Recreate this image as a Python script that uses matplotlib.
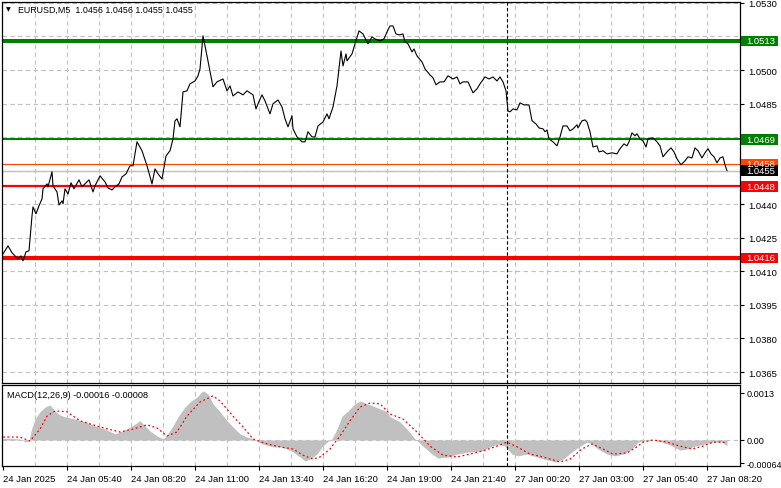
import matplotlib
matplotlib.use("Agg")
import matplotlib.pyplot as plt
import matplotlib.transforms as mtransforms
from matplotlib.patches import Rectangle

# ---------------- data ----------------
# bar position (M5 bars since 24 Jan 03:00) and close price
price_pos = [0, 2.5, 4.5, 6, 7.5, 9, 10, 11.5, 13, 14.5, 15, 16.5, 18, 19.5, 20, 22, 22.5, 24.5, 25, 27,
             28, 29.5, 30, 31, 32.5, 34, 35.5, 38, 39.5, 41, 43, 45, 46, 48.5, 51, 52.5, 54.5, 56, 58, 59.5,
             61.5, 63.5, 65, 67, 69.5, 72, 74.5, 76, 77.5, 79.5, 81.5, 83.5, 85, 86, 87, 88.5, 90, 92, 93.5, 96,
             97.5, 98.5, 100, 102, 105, 107, 110, 112, 113.5, 115, 117.5, 120, 122, 125, 126.5, 127.5, 129.5, 131, 133.5, 135,
             137.5, 139.5, 141, 142.5, 144.5, 145, 147, 149.5, 151, 152.5, 154.5, 156, 157.5, 160, 162, 163, 165, 167, 169, 170,
             171.5, 172, 174.5, 176, 178, 180, 182.5, 184.5, 186, 188.5, 190.5, 192, 193.5, 195, 196.5, 198, 200, 201, 202.5, 204.5,
             205.5, 207, 209.5, 211, 213.5, 215, 216.5, 218.5, 220.5, 222.5, 225, 227, 228.5, 230, 232.5, 235, 237, 238.5, 241, 243,
             245, 247, 248.5, 250, 251.5, 252.5, 253.5, 255, 257, 258.5, 260.5, 263, 264.5, 266.5, 268, 270, 271, 272, 273, 275,
             277, 278.5, 280, 282, 283.5, 285, 287, 287.5, 289.5, 291, 292, 293.5, 295, 297, 298, 300, 302, 304.5, 307, 308.5,
             310.5, 312, 313, 314.5, 316, 317, 318.5, 320, 321.5, 322.5, 325, 327, 328.5, 330, 332, 334, 335.5, 337, 339, 341,
             342.5, 344.5, 346, 347.5, 349.5, 351, 352.5, 354, 355.5, 357, 358.5, 360, 361, 362]
price_close = [1.04178, 1.04214, 1.04183, 1.04169, 1.04156, 1.04169, 1.04147, 1.04187, 1.04192, 1.04348,
               1.04388, 1.04357, 1.04393, 1.04424, 1.04469, 1.04491, 1.04478, 1.04545, 1.04482, 1.04455,
               1.04397, 1.04415, 1.04402, 1.04469, 1.04446, 1.04496, 1.04469, 1.04509, 1.04478, 1.04491,
               1.04509, 1.04455, 1.04482, 1.04527, 1.04500, 1.04473, 1.04464, 1.04478, 1.04491, 1.04522,
               1.04536, 1.04572, 1.04572, 1.04679, 1.04639, 1.04572, 1.04491, 1.04558, 1.04536, 1.04513,
               1.04616, 1.04639, 1.04692, 1.04773, 1.04782, 1.04746, 1.04902, 1.04907, 1.04938, 1.04951,
               1.04974, 1.05005, 1.05153, 1.05063, 1.04925, 1.04947, 1.04960, 1.04907, 1.04929, 1.04884,
               1.04902, 1.04889, 1.04907, 1.04889, 1.04826, 1.04849, 1.04889, 1.04862, 1.04804, 1.04849,
               1.04866, 1.04835, 1.04782, 1.04746, 1.04795, 1.04737, 1.04701, 1.04679, 1.04679, 1.04724,
               1.04701, 1.04701, 1.04750, 1.04768, 1.04804, 1.04782, 1.04835, 1.04929, 1.05085, 1.05018,
               1.05072, 1.05041, 1.05072, 1.05117, 1.05175, 1.05161, 1.05117, 1.05148, 1.05139, 1.05130,
               1.05139, 1.05170, 1.05197, 1.05197, 1.05161, 1.05157, 1.05161, 1.05126, 1.05117, 1.05081,
               1.05094, 1.05063, 1.05036, 1.05005, 1.04978, 1.04965, 1.04934, 1.04947, 1.04947, 1.04974,
               1.04960, 1.04969, 1.04938, 1.04947, 1.04947, 1.04898, 1.04916, 1.04938, 1.04969, 1.04960,
               1.04969, 1.04951, 1.04969, 1.04947, 1.04907, 1.04817, 1.04813, 1.04826, 1.04822, 1.04853,
               1.04844, 1.04844, 1.04773, 1.04759, 1.04741, 1.04737, 1.04724, 1.04732, 1.04692, 1.04679,
               1.04661, 1.04701, 1.04750, 1.04750, 1.04728, 1.04737, 1.04755, 1.04741, 1.04773, 1.04777,
               1.04768, 1.04724, 1.04656, 1.04661, 1.04634, 1.04639, 1.04625, 1.04630, 1.04625, 1.04648,
               1.04670, 1.04661, 1.04679, 1.04719, 1.04706, 1.04715, 1.04692, 1.04683, 1.04656, 1.04692,
               1.04697, 1.04679, 1.04661, 1.04612, 1.04634, 1.04652, 1.04634, 1.04603, 1.04576, 1.04594,
               1.04612, 1.04607, 1.04652, 1.04639, 1.04607, 1.04630, 1.04648, 1.04625, 1.04612, 1.04585,
               1.04607, 1.04612, 1.04576, 1.04550]

# MACD main (histogram) and signal
macd_pos = [0, 8, 11, 13, 14, 16, 18.5, 21, 23.5, 26, 28.5, 31, 36, 41, 46, 51, 56, 58.5, 62, 66,
            68.5, 71, 73.5, 77, 80, 82, 85, 87.5, 91, 93.5, 97, 100, 102.5, 105, 108.5, 112, 115, 118.5, 122, 125,
            128.5, 132, 135, 138.5, 142, 145, 148.5, 151, 153.5, 157, 159.5, 162, 164.5, 167, 169.5, 172.5, 176, 178.5, 182, 185,
            188.5, 192, 193.5, 198.5, 202, 206, 210, 214.5, 217.5, 222.5, 227, 233.5, 239.5, 243.5, 247.5, 251, 254.5, 257.5, 262, 267,
            272, 277, 280, 284.5, 288.5, 292, 294.5, 297.5, 302, 306, 310, 314.5, 317.5, 320, 325, 329.5, 333.5, 338.5, 342, 346,
            351, 355, 359.5, 362]
macd_main = [0.00005, 0.00003, -0.00005, -0.00003, 0.00025, 0.00058, 0.00078, 0.00091, 0.00097, 0.00080,
             0.00069, 0.00064, 0.00058, 0.00050, 0.00039, 0.00030, 0.00017, 0.00022, 0.00030, 0.00044,
             0.00053, 0.00039, 0.00025, 0.00011, 0.00003, 0.00014, 0.00039, 0.00064, 0.00091, 0.00105,
             0.00119, 0.00136, 0.00127, 0.00100, 0.00078, 0.00053, 0.00036, 0.00017, 0.00008, 0.00003,
             -0.00008, -0.00014, -0.00019, -0.00019, -0.00025, -0.00033, -0.00047, -0.00058, -0.00053, -0.00039,
             -0.00019, -0.00006, 0.00003, 0.00030, 0.00066, 0.00080, 0.00100, 0.00108, 0.00100, 0.00094,
             0.00086, 0.00078, 0.00064, 0.00050, 0.00030, 0.00003, -0.00017, -0.00039, -0.00050, -0.00047,
             -0.00039, -0.00033, -0.00030, -0.00019, -0.00011, -0.00017, -0.00039, -0.00044, -0.00039, -0.00047,
             -0.00055, -0.00061, -0.00053, -0.00033, -0.00017, -0.00006, -0.00011, -0.00025, -0.00039, -0.00044,
             -0.00039, -0.00025, -0.00006, -0.00003, 0.00000, -0.00006, -0.00014, -0.00028, -0.00025, -0.00017,
             -0.00011, -0.00006, -0.00006, -0.00016]
sig_pos = [0, 8.5, 13.5, 18.5, 22, 26, 32, 38.5, 48.5, 58.5, 65, 72, 77, 82, 87, 92, 98.5, 105, 108.5, 115,
           120, 125, 132, 138.5, 145, 150, 155, 158.5, 163.5, 168.5, 173.5, 178.5, 183.5, 188.5, 193.5, 200, 207, 213.5, 220, 227,
           233.5, 240, 247, 252, 257, 263.5, 270, 278.5, 283.5, 289.5, 294.5, 300, 305, 312, 317, 320, 325, 332, 338.5, 344.5,
           350, 355, 360, 362]
sig_vals = [0.00008, 0.00008, -0.00003, 0.00030, 0.00066, 0.00080, 0.00078, 0.00053, 0.00036, 0.00022,
            0.00030, 0.00042, 0.00033, 0.00011, 0.00022, 0.00066, 0.00105, 0.00122, 0.00108, 0.00066,
            0.00036, 0.00003, -0.00011, -0.00019, -0.00025, -0.00042, -0.00053, -0.00047, -0.00025, 0.00011,
            0.00053, 0.00091, 0.00102, 0.00100, 0.00072, 0.00058, 0.00022, -0.00017, -0.00042, -0.00047,
            -0.00039, -0.00030, -0.00017, -0.00006, -0.00019, -0.00039, -0.00047, -0.00061, -0.00053, -0.00025,
            -0.00011, -0.00025, -0.00039, -0.00036, -0.00019, -0.00006, 0.00000, -0.00006, -0.00017, -0.00025,
            -0.00017, -0.00006, -0.00006, -0.00008]

# horizontal levels
level_values = [1.0513, 1.0469, 1.0458, 1.0455, 1.0448, 1.0416]
level_labels = ["1.0513", "1.0469", "1.0458", "1.0455", "1.0448", "1.0416"]
level_colors = ["#008000", "#008000", "#FF4500", "#C0C0C0", "#FF0000", "#FF0000"]
level_widths = [2.9, 1.5, 0.8, 1.0, 1.6, 3.0]
box_colors = ["#008000", "#008000", "#FF4500", "#000000", "#FF0000", "#FF0000"]

price_ticks = [1.0530, 1.0515, 1.0500, 1.0485, 1.0470, 1.0455, 1.0440, 1.0425, 1.0410, 1.0395, 1.0380, 1.0365]
price_tick_labels = ["1.0530", "", "1.0500", "1.0485", "", "", "1.0440", "1.0425", "1.0410", "1.0395", "1.0380", "1.0365"]
macd_ticks = [0.0013, 0.0, -0.00064]
macd_tick_labels = ["0.0013", "0.00", "-0.00064"]
time_ticks = [0, 32, 64, 96, 128, 160, 192, 224, 256, 288, 320, 352]
time_labels = ["24 Jan 2025", "24 Jan 05:40", "24 Jan 08:20", "24 Jan 11:00", "24 Jan 13:40",
               "24 Jan 16:20", "24 Jan 19:00", "24 Jan 21:40", "27 Jan 00:20", "27 Jan 03:00",
               "27 Jan 05:40", "27 Jan 08:20"]
grid_x = [16 * k for k in range(1, 23)]
day_separator = 252

header = "EURUSD,M5  1.0456 1.0456 1.0455 1.0455"
macd_header = "MACD(12,26,9) -0.00016 -0.00008"

# ---------------- figure ----------------
plt.rcParams["font.family"] = ["Liberation Sans", "DejaVu Sans"]
W, H = 781, 489
fig = plt.figure(figsize=(W / 100, H / 100), dpi=100)
fig.patch.set_facecolor("white")


def rect(x0, y0, x1, y1):
    return [x0 / W, 1 - y1 / H, (x1 - x0) / W, (y1 - y0) / H]


ax = fig.add_axes(rect(2, 3, 740, 384))
axm = fig.add_axes(rect(2, 386, 740, 467))

XMIN, XMAX = -0.5, 368.5
grid_kw = dict(color="#C0C0C0", lw=0.8, ls=(0, (4, 3)), zorder=0)

# main panel
ax.set_xlim(XMIN, XMAX)
ax.set_ylim(1.03601, 1.05304)
for gx in grid_x:
    ax.axvline(gx, **grid_kw)
for gy in price_ticks:
    ax.axhline(gy, **grid_kw)
for v, c, lw in zip(level_values, level_colors, level_widths):
    ax.axhline(v, color=c, lw=lw, zorder=2)
ax.axvline(day_separator, color="black", lw=0.8, ls=(0, (3, 2)), zorder=3)
ax.plot(price_pos, price_close, color="black", lw=0.8, zorder=4)

ax.yaxis.tick_right()
ax.set_yticks(price_ticks)
ax.set_yticklabels(price_tick_labels)
ax.tick_params(axis="y", direction="out", length=3, width=0.8, pad=3, labelsize=6.8, colors="black")
ax.set_xticks([])
for s in ax.spines.values():
    s.set_linewidth(0.9)

# price label boxes on the right
trans = mtransforms.blended_transform_factory(fig.transFigure, ax.transData)
px = (1.05304 - 1.03601) / (384 - 3)
for v, lab, bc in zip(level_values, level_labels, box_colors):
    r = Rectangle((741 / W, v - 5.2 * px), 37 / W, 10.4 * px, transform=trans,
                  facecolor=bc, edgecolor="none", clip_on=False, zorder=10)
    fig.add_artist(r)
    fig.text(746 / W, v, lab, transform=trans, color="white", fontsize=6.8,
             ha="left", va="center", zorder=11)

fig.text(8 / W, 1 - 10 / H, "\u25bc", fontsize=4.5, family="DejaVu Sans", va="center", ha="center")
fig.text(18 / W, 1 - 10 / H, header, fontsize=6.4, va="center", ha="left")

# MACD panel
axm.set_xlim(XMIN, XMAX)
axm.set_ylim(-0.00072, 0.00152)
for gx in grid_x:
    axm.axvline(gx, **grid_kw)
axm.axhline(0, **grid_kw)
axm.fill_between(macd_pos, 0, macd_main, color="#C0C0C0", lw=0, zorder=1)
axm.plot(sig_pos, sig_vals, color="#FF0000", lw=0.9, ls=(0, (1.5, 2)), zorder=3)
axm.axvline(day_separator, color="black", lw=0.8, ls=(0, (3, 2)), zorder=3)

axm.yaxis.tick_right()
axm.set_yticks(macd_ticks)
axm.set_yticklabels(macd_tick_labels)
axm.tick_params(axis="y", direction="out", length=3, width=0.8, pad=1.5, labelsize=6.6)
axm.get_yticklabels()[2].set_fontsize(6.4)
axm.set_xticks(time_ticks)
axm.set_xticklabels(time_labels, ha="left")
axm.tick_params(axis="x", direction="out", length=3, width=0.8, pad=3, labelsize=6.8)
for s in axm.spines.values():
    s.set_linewidth(0.9)
fig.text(7 / W, 1 - 396 / H, macd_header, fontsize=6.6, va="center", ha="left")

fig.savefig("out.png", dpi=100)
